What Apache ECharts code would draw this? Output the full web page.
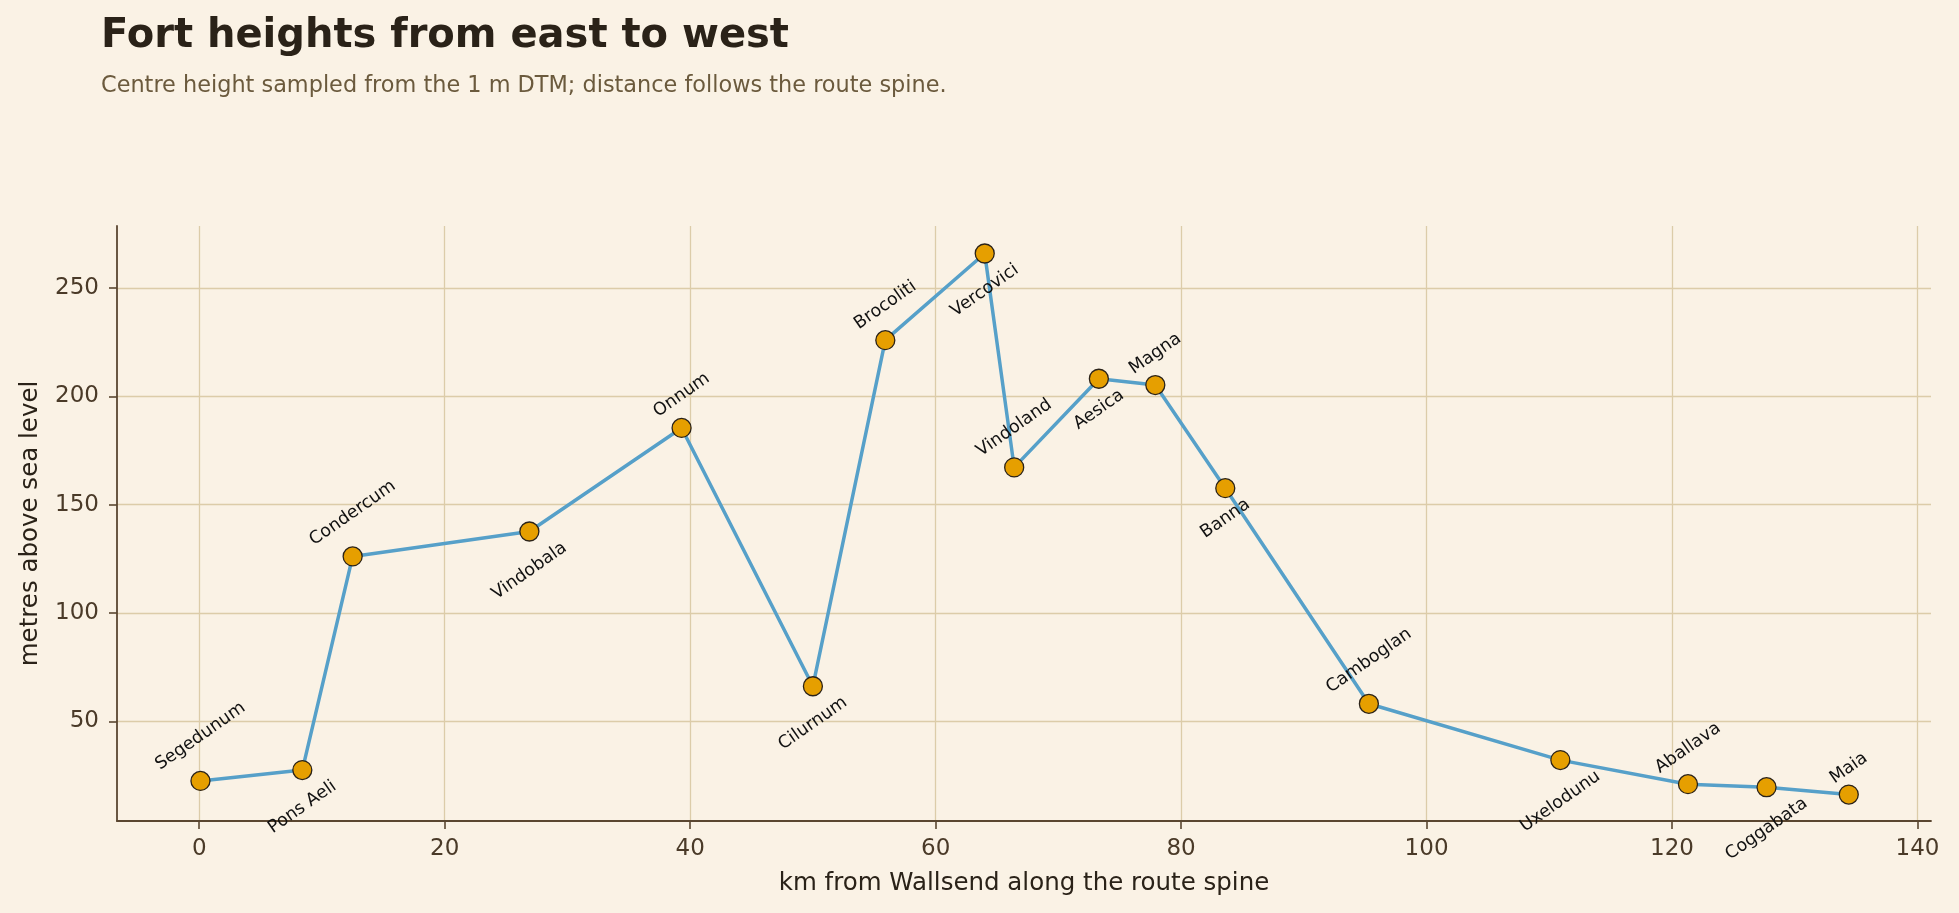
<!DOCTYPE html>
<html>
<head>
<meta charset="utf-8">
<title>Fort heights from east to west</title>
<script src="https://cdn.jsdelivr.net/npm/echarts@6/dist/echarts.min.js"></script>
<style>
  html, body { margin: 0; padding: 0; background: #faf2e5; }
  #chart { width: 1959px; height: 913px; }
</style>
</head>
<body>
<div id="chart"></div>
<script>
// fort names (east -> west), labels show the first 9 letters
const forts = [
  "Segedunum", "Pons Aelius", "Condercum", "Vindobala", "Onnum", "Cilurnum",
  "Brocolitia", "Vercovicium", "Vindolanda", "Aesica", "Magna", "Banna",
  "Camboglanna", "Uxelodunum", "Aballava", "Coggabata", "Maia",
]
// km from Wallsend along the route spine
const distanceKm = [
  0.1, 8.4, 12.5, 26.9, 39.3, 50.0, 55.9, 64.0, 66.4, 73.3, 77.9, 83.6,
  95.3, 110.9, 121.3, 127.7, 134.4,
]
// centre height, metres above sea level
const heightM = [
  22.5, 27.5, 126.1, 137.6, 185.4, 66.2, 225.9, 265.9, 167.2, 208.1, 205.2, 157.6,
  58.1, 32.1, 21.0, 19.6, 16.2,
]
// tick labels
const xTicks = [0, 20, 40, 60, 80, 100, 120, 140]
const yTicks = [50, 100, 150, 200, 250]

const FONT = "DejaVu Sans"
const LABEL_SIZE = 17.5
const LABEL_ROTATE = 35
const MARKER_SIZE = 19

// distance of a rotated label's centre from the marker edge
const measureCtx = document.createElement("canvas").getContext("2d")
measureCtx.font = LABEL_SIZE + 'px "' + FONT + '"'
const labelDistance = (text) => {
  const a = (LABEL_ROTATE * Math.PI) / 180
  const w = measureCtx.measureText(text).width
  const h = LABEL_SIZE * 1.17
  const boxH = w * Math.sin(a) + h * Math.cos(a)
  return 5.5 + boxH / 2 - MARKER_SIZE / 2
}

const shortName = (name) => name.slice(0, 9)

const seriesData = forts.map((name, i) => ({
  name: name,
  value: [distanceKm[i], heightM[i]],
  label: {
    position: i % 2 === 0 ? "top" : "bottom",
    distance: labelDistance(shortName(name)),
  },
}))

const myChart = echarts.init(document.getElementById("chart"))

const option = {
  backgroundColor: "#faf2e5",
  animation: false,
  textStyle: { fontFamily: FONT },
  title: {
    left: 96,
    top: 12,
    text: "Fort heights from east to west",
    subtext: "Centre height sampled from the 1 m DTM; distance follows the route spine.",
    itemGap: 18,
    textStyle: { fontFamily: FONT, fontSize: 40, fontWeight: "bold", color: "#2a2218" },
    subtextStyle: { fontFamily: FONT, fontSize: 22.4, color: "#6b5a3d" },
  },
  grid: {
    left: 117,
    right: 28,
    top: 226,
    bottom: 92,
    containLabel: false,
    outerBoundsMode: "none",
  },
  xAxis: {
    type: "value",
    min: -6.7,
    max: 141.1,
    splitNumber: 7,
    name: "km from Wallsend along the route spine",
    nameLocation: "middle",
    nameGap: 50,
    nameMoveOverlap: false,
    nameTextStyle: { fontFamily: FONT, fontSize: 24.5, color: "#2a2218" },
    axisLine: { onZero: false, lineStyle: { color: "#5a4630", width: 1.8 } },
    axisTick: { show: true, inside: false, customValues: xTicks, length: 8, lineStyle: { color: "#5a4630", width: 1.6 } },
    axisLabel: {
      customValues: xTicks,
      margin: 17,
      fontFamily: FONT,
      fontSize: 23,
      color: "#4a3a28",
    },
    splitLine: {
      show: true,
      lineStyle: { color: "#dccca9", width: 1.3 },
    },
  },
  yAxis: {
    type: "value",
    min: 4,
    max: 278.6,
    splitNumber: 5,
    name: "metres above sea level",
    nameLocation: "middle",
    nameGap: 74,
    nameMoveOverlap: false,
    nameTextStyle: { fontFamily: FONT, fontSize: 24.5, color: "#2a2218" },
    axisLine: { show: true, onZero: false, lineStyle: { color: "#5a4630", width: 1.8 } },
    axisTick: { show: true, inside: false, customValues: yTicks, length: 8, lineStyle: { color: "#5a4630", width: 1.6 } },
    axisLabel: {
      customValues: yTicks,
      margin: 18,
      fontFamily: FONT,
      fontSize: 23,
      color: "#4a3a28",
    },
    splitLine: {
      show: true,
      lineStyle: { color: "#dccca9", width: 1.3 },
    },
  },
  series: [
    {
      type: "line",
      data: seriesData,
      symbol: "circle",
      symbolSize: MARKER_SIZE,
      showSymbol: true,
      lineStyle: { color: "#56a0c9", width: 3.5 },
      itemStyle: { color: "#e69f00", borderColor: "#2a2218", borderWidth: 1.3 },
      label: {
        show: true,
        formatter: (p) => shortName(p.name),
        rotate: LABEL_ROTATE,
        align: "center",
        verticalAlign: "middle",
        fontFamily: FONT,
        fontSize: LABEL_SIZE,
        color: "#111111",
      },
      emphasis: { disabled: true },
    },
  ],
}

myChart.setOption(option)
</script>
</body>
</html>
